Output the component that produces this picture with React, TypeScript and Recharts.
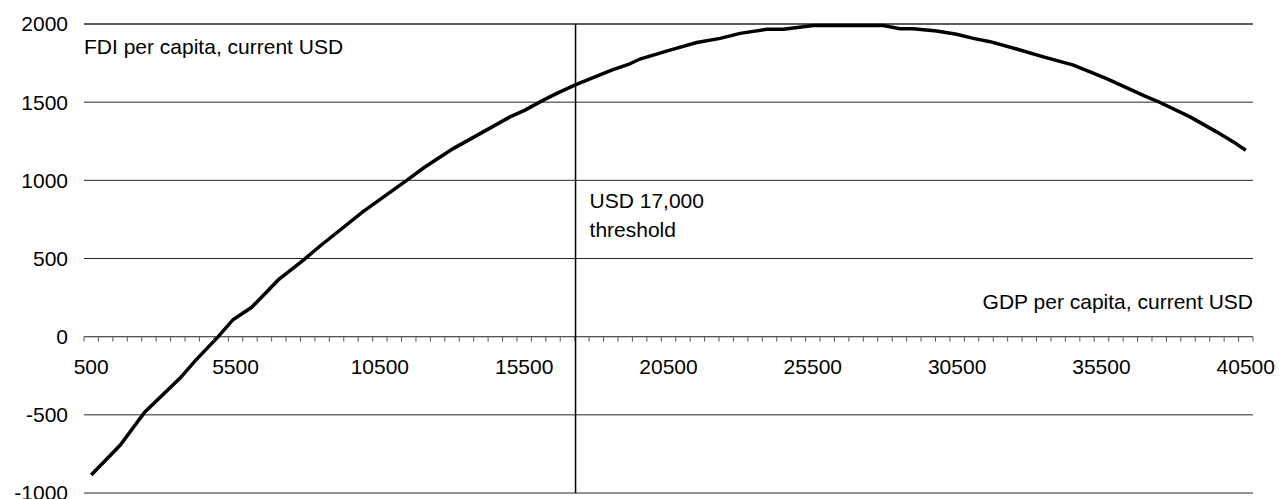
import { CartesianGrid, ComposedChart, Line, ReferenceLine, Scatter, XAxis, YAxis } from 'recharts';

// GDP per capita (x) and FDI per capita (y)
const gdpPerCapita = [
  500, 1500, 2360, 3580, 4100, 4900, 5420, 6060, 6980, 7850, 8430, 9930, 11430, 12060, 13040, 14080, 15010,
  15530, 16050, 16630, 17290, 18530, 19110, 19510, 20550, 21480, 22290, 22980, 23900, 24480, 25520, 26900,
  27940, 28520, 28980, 29790, 30480, 31060, 31640, 32560, 33490, 34530, 35680, 36950, 37530, 38570, 39490,
  40070, 40500,
];
const fdiPerCapita = [
  -885, -695, -482, -265, -155, 0, 110, 188, 363, 490, 580, 802, 1000, 1085, 1203, 1310, 1406, 1449, 1502,
  1556, 1612, 1705, 1741, 1776, 1833, 1882, 1908, 1940, 1966, 1966, 1990, 1990, 1990, 1970, 1970, 1955, 1934,
  1908, 1887, 1840, 1790, 1737, 1651, 1544, 1498, 1406, 1310, 1246, 1192,
];
const yTicks = [-1000, -500, 0, 500, 1000, 1500, 2000];
const xLabels = [500, 5500, 10500, 15500, 20500, 25500, 30500, 35500, 40500];
const thresholdGdp = 17280;

const FONT = 'Liberation Sans, Arial, sans-serif';
const FONT_SIZE = 21;
const INK = '#000';
const GRID = '#262626';
const AXIS = '#5a5a5a';

const curve = gdpPerCapita.map((gdp, i) => ({ gdp, fdi: fdiPerCapita[i] }));
// category boundaries, one tick every 500
const tickMarks = Array.from({ length: 82 }, (_, i) => ({ gdp: 250 + i * 500, fdi: 0 }));
const labelPoints = xLabels.map((gdp) => ({ gdp, fdi: 0 }));

function TickMark({ cx, cy }: { cx?: number; cy?: number }) {
  if (cx == null || cy == null) return null;
  return <line x1={cx} x2={cx} y1={cy} y2={cy + 5} stroke={AXIS} strokeWidth={1} />;
}

function TickLabel({ cx, cy, payload }: { cx?: number; cy?: number; payload?: { gdp: number } }) {
  if (cx == null || cy == null || !payload) return null;
  return (
    <text x={cx} y={cy + 37} textAnchor="middle" fontSize={FONT_SIZE} fill={INK}>
      {payload.gdp}
    </text>
  );
}

export default function App() {
  return (
    <div style={{ width: 1279, height: 499, fontFamily: FONT, background: '#fff' }}>
      <style>{'body{margin:0}'}</style>
      <ComposedChart width={1279} height={499} margin={{ top: 24, right: 26, bottom: 6, left: 0 }}>
        <CartesianGrid vertical={false} stroke={GRID} />
        <XAxis type="number" dataKey="gdp" domain={[250, 40750]} hide />
        <YAxis
          type="number"
          domain={[-1000, 2000]}
          ticks={yTicks}
          interval={0}
          width={84}
          axisLine={false}
          tickLine={false}
          tickSize={0}
          tickMargin={16}
          tick={{ fill: INK, fontSize: FONT_SIZE }}
        />
        <ReferenceLine
          y={2000}
          stroke={GRID}
          label={(props: any) => (
            <text x={props.viewBox.x} y={props.viewBox.y + 30} fontSize={FONT_SIZE} fill={INK}>
              FDI per capita, current USD
            </text>
          )}
        />
        <ReferenceLine
          y={0}
          stroke={AXIS}
          label={(props: any) => (
            <text
              x={props.viewBox.x + props.viewBox.width}
              y={props.viewBox.y - 28}
              textAnchor="end"
              fontSize={FONT_SIZE}
              fill={INK}
            >
              GDP per capita, current USD
            </text>
          )}
        />
        <ReferenceLine
          x={thresholdGdp}
          stroke={INK}
          strokeWidth={1.5}
          label={(props: any) => (
            <text x={props.viewBox.x + 14} y={props.viewBox.y + 184} fontSize={FONT_SIZE} fill={INK}>
              <tspan x={props.viewBox.x + 14}>USD 17,000</tspan>
              <tspan x={props.viewBox.x + 14} dy={29}>
                threshold
              </tspan>
            </text>
          )}
        />
        <Scatter data={tickMarks} dataKey="fdi" shape={(p: any) => <TickMark {...p} />} isAnimationActive={false} />
        <Scatter data={labelPoints} dataKey="fdi" shape={(p: any) => <TickLabel {...p} />} isAnimationActive={false} />
        <Line
          data={curve}
          dataKey="fdi"
          type="linear"
          stroke={INK}
          strokeWidth={3.5}
          dot={false}
          isAnimationActive={false}
        />
      </ComposedChart>
    </div>
  );
}
